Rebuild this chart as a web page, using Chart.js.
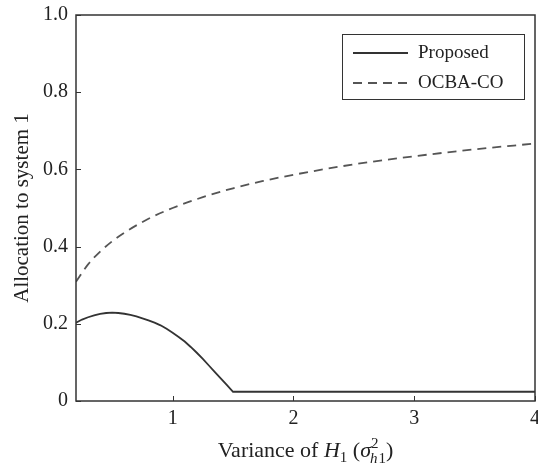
<!DOCTYPE html>
<html>
<head>
<meta charset="utf-8">
<script src="https://cdn.jsdelivr.net/npm/chart.js@4"></script>
<style>
  html, body { margin: 0; padding: 0; background: #fff; }
</style>
</head>
<body>
<canvas id="c" width="538" height="465"></canvas>
<script>
/* ── data ─────────────────────────────────────────── */
const proposedX = [0.20, 0.25, 0.30, 0.35, 0.40, 0.45, 0.50, 0.55, 0.60, 0.65, 0.70, 0.75, 0.80, 0.85,
                   0.90, 0.95, 1.00, 1.05, 1.10, 1.15, 1.20, 1.25, 1.30, 1.35, 1.40, 1.45, 1.50, 2, 3, 4];
const proposedY = [0.203, 0.211, 0.217, 0.222, 0.226, 0.228, 0.229, 0.228, 0.226, 0.223, 0.219, 0.214, 0.209, 0.203,
                   0.196, 0.187, 0.177, 0.166, 0.154, 0.140, 0.125, 0.109, 0.092, 0.075, 0.058, 0.041, 0.024, 0.024, 0.024, 0.024];

const ocbaX = [0.2, 0.3, 0.4, 0.5, 0.6, 0.8, 1.0, 1.25, 1.5, 1.75, 2.0, 2.5, 3.0, 3.5, 4.0];
const ocbaY = [0.309, 0.354, 0.387, 0.414, 0.436, 0.472, 0.500, 0.528, 0.551, 0.570, 0.586, 0.613, 0.634, 0.652, 0.667];

const xTicks = [1, 2, 3, 4];
const yTicks = [0, 0.2, 0.4, 0.6, 0.8, 1.0];
const yTickLabels = ['0', '0.2', '0.4', '0.6', '0.8', '1.0'];

const FONT = '"Liberation Serif", serif';
const AXIS = '#333';
const TEXT = '#222';

/* ── inward ticks + frame ─────────────────────────── */
const frame = {
  id: 'frame',
  afterDraw(chart) {
    const { ctx, chartArea: a, scales } = chart;
    ctx.save();
    ctx.strokeStyle = AXIS;
    ctx.lineWidth = 1.5;
    ctx.strokeRect(a.left, a.top, a.right - a.left, a.bottom - a.top);
    ctx.lineWidth = 1;
    xTicks.forEach(v => {
      const x = Math.round(scales.x.getPixelForValue(v)) + 0.5;
      ctx.beginPath(); ctx.moveTo(x, a.bottom); ctx.lineTo(x, a.bottom - 5); ctx.stroke();
    });
    yTicks.forEach(v => {
      const y = Math.round(scales.y.getPixelForValue(v)) + 0.5;
      ctx.beginPath(); ctx.moveTo(a.left, y); ctx.lineTo(a.left + 5, y); ctx.stroke();
    });
    ctx.restore();
  }
};

/* ── x title with sub/superscripts ────────────────── */
const xTitle = {
  id: 'xTitle',
  afterDraw(chart) {
    const ctx = chart.ctx, a = chart.chartArea;
    const base = 457;
    // [text, italic, size, dy, advance]
    const parts = [
      ['Variance of ', false, 22, 0, true],
      ['H', true, 22, 0, true],
      ['1', false, 15, 5, true],
      [' (', false, 22, 0, true],
      ['σ', true, 22, 0, true],
      ['2', false, 15, -9, false],
      ['h', true, 15, 6, true],
      ['1', false, 15, 6, true],
      [')', false, 22, 0, true]
    ];
    ctx.save();
    ctx.fillStyle = TEXT;
    ctx.textBaseline = 'alphabetic';
    const fontOf = p => (p[1] ? 'italic ' : '') + p[2] + 'px ' + FONT;
    let total = 0;
    parts.forEach(p => { ctx.font = fontOf(p); if (p[4]) total += ctx.measureText(p[0]).width; });
    let x = (a.left + a.right) / 2 - total / 2;
    parts.forEach(p => {
      ctx.font = fontOf(p);
      ctx.fillText(p[0], p[0] === 'h' ? x - 1 : x, base + p[3]);
      if (p[4]) x += ctx.measureText(p[0]).width;
    });
    ctx.restore();
  }
};

/* ── legend box ───────────────────────────────────── */
const legendBox = {
  id: 'legendBox',
  afterDraw(chart) {
    const ctx = chart.ctx;
    ctx.save();
    ctx.fillStyle = '#fff';
    ctx.fillRect(342, 34, 182, 65);
    ctx.strokeStyle = AXIS;
    ctx.lineWidth = 1;
    ctx.strokeRect(342.5, 34.5, 182, 65);
    chart.data.datasets.forEach((ds, i) => {
      const y = 53 + i * 30;
      ctx.strokeStyle = ds.borderColor;
      ctx.lineWidth = ds.borderWidth;
      ctx.setLineDash(ds.borderDash || []);
      ctx.beginPath(); ctx.moveTo(353, y); ctx.lineTo(408, y); ctx.stroke();
      ctx.setLineDash([]);
      ctx.fillStyle = TEXT;
      ctx.font = '19px ' + FONT;
      ctx.textBaseline = 'middle';
      ctx.fillText(ds.label, 418, y);
    });
    ctx.restore();
  }
};

new Chart(document.getElementById('c'), {
  type: 'line',
  data: {
    datasets: [
      {
        label: 'Proposed',
        data: proposedX.map((x, i) => ({ x, y: proposedY[i] })),
        borderColor: '#333', borderWidth: 1.8,
        pointRadius: 0, tension: 0
      },
      {
        label: 'OCBA-CO',
        data: ocbaX.map((x, i) => ({ x, y: ocbaY[i] })),
        borderColor: '#555', borderWidth: 1.8, borderDash: [9, 6],
        pointRadius: 0, cubicInterpolationMode: 'monotone'
      }
    ]
  },
  options: {
    responsive: false,
    animation: false,
    layout: { padding: { left: 10, right: 3, top: 15, bottom: 0 } },
    plugins: { legend: { display: false }, tooltip: { enabled: false } },
    scales: {
      x: {
        type: 'linear', min: 0.2, max: 4,
        afterBuildTicks: s => { s.ticks = xTicks.map(v => ({ value: v })); },
        afterFit: s => { s.height = 64; s.paddingLeft = 0; s.paddingRight = 0; },
        grid: { display: false, drawTicks: false },
        border: { display: false },
        ticks: { color: TEXT, font: { family: FONT, size: 20 }, padding: 6, maxRotation: 0 }
      },
      y: {
        type: 'linear', min: 0, max: 1,
        afterBuildTicks: s => { s.ticks = yTicks.map(v => ({ value: v })); },
        afterFit: s => { s.width = 66; s.paddingTop = 0; s.paddingBottom = 0; },
        grid: { display: false, drawTicks: false },
        border: { display: false },
        title: { display: true, text: 'Allocation to system 1', color: TEXT, font: { family: FONT, size: 21 }, padding: 0 },
        ticks: {
          color: TEXT, font: { family: FONT, size: 20 }, padding: 8,
          callback: (v) => yTickLabels[yTicks.indexOf(v)]
        }
      }
    }
  },
  plugins: [frame, xTitle, legendBox]
});
</script>
</body>
</html>
